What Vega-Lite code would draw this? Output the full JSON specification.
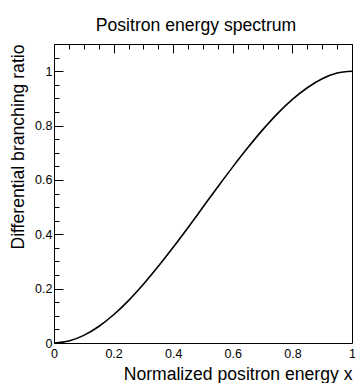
{
  "$schema": "https://vega.github.io/schema/vega-lite/v6.json",
  "width": 298,
  "height": 299,
  "autosize": {"type": "none"},
  "padding": {"left": 54, "top": 44, "right": 3, "bottom": 40},
  "background": "white",
  "title": {"text": "Positron energy spectrum", "font": "Liberation Sans", "fontSize": 17.6, "fontWeight": "normal", "color": "black", "baseline": "alphabetic", "offset": -5, "dx": -7},
  "config": {
    "view": {"stroke": "black", "strokeWidth": 1},
    "axis": {
      "domain": false,
      "ticks": false,
      "tickSize": 0,
      "grid": true,
      "gridColor": "black",
      "gridOpacity": 1,
      "gridWidth": 1,
      "labelFont": "Liberation Sans",
      "labelFontSize": 12.5,
      "labelColor": "black",
      "labelFlush": false,
      "labelOverlap": false,
      "titleFont": "Liberation Sans",
      "titleFontSize": 17.6,
      "titleFontWeight": "normal",
      "titleColor": "black"
    }
  },
  "data": {"values": [
    {"x": 0, "y": 0},
    {"x": 0.05, "y": 0.0073},
    {"x": 0.1, "y": 0.028},
    {"x": 0.15, "y": 0.0608},
    {"x": 0.2, "y": 0.104},
    {"x": 0.25, "y": 0.156},
    {"x": 0.3, "y": 0.216},
    {"x": 0.35, "y": 0.282},
    {"x": 0.4, "y": 0.352},
    {"x": 0.45, "y": 0.425},
    {"x": 0.5, "y": 0.5},
    {"x": 0.55, "y": 0.575},
    {"x": 0.6, "y": 0.648},
    {"x": 0.65, "y": 0.718},
    {"x": 0.7, "y": 0.784},
    {"x": 0.75, "y": 0.844},
    {"x": 0.8, "y": 0.896},
    {"x": 0.85, "y": 0.939},
    {"x": 0.9, "y": 0.972},
    {"x": 0.95, "y": 0.993},
    {"x": 1, "y": 1}
  ]},
  "mark": {"type": "line", "color": "black", "strokeWidth": 1.6, "interpolate": "monotone"},
  "encoding": {
    "x": {
      "field": "x", "type": "quantitative",
      "scale": {"domain": [0, 1], "nice": false, "zero": false},
      "axis": {
        "title": "Normalized positron energy x",
        "titleX": 298,
        "titleY": 36,
        "titleAlign": "right",
        "titleBaseline": "alphabetic",
        "values": [0, 0.05, 0.1, 0.15, 0.2, 0.25, 0.3, 0.35, 0.4, 0.45, 0.5, 0.55, 0.6, 0.65, 0.7, 0.75, 0.8, 0.85, 0.9, 0.95, 1],
        "labelExpr": "round(datum.value*100) % 20 == 0 ? format(datum.value, '~g') : ''",
        "gridDash": {"condition": {"test": "round(datum.value*100) % 20 == 0", "value": [9, 1000]}, "value": [5, 1000]},
        "labelPadding": 4
      }
    },
    "y": {
      "field": "y", "type": "quantitative",
      "scale": {"domain": [0, 1.1], "nice": false, "zero": false},
      "axis": {
        "title": "Differential branching ratio",
        "titleX": -31,
        "titleY": 0,
        "titleAngle": -90,
        "titleAlign": "right",
        "titleBaseline": "alphabetic",
        "values": [0, 0.05, 0.1, 0.15, 0.2, 0.25, 0.3, 0.35, 0.4, 0.45, 0.5, 0.55, 0.6, 0.65, 0.7, 0.75, 0.8, 0.85, 0.9, 0.95, 1, 1.05],
        "labelExpr": "round(datum.value*100) % 20 == 0 ? format(datum.value, '~g') : ''",
        "gridDash": {"condition": {"test": "round(datum.value*100) % 20 == 0", "value": [9, 1000]}, "value": [5, 1000]},
        "labelPadding": 2
      }
    }
  }
}
